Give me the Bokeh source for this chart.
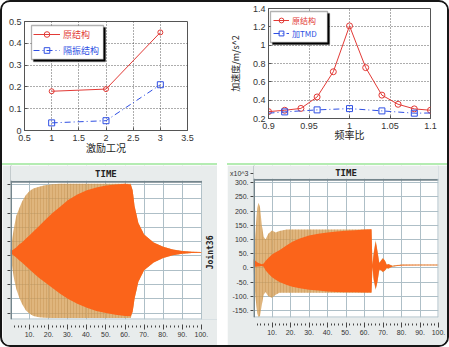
from math import pi
from bokeh.plotting import figure
from bokeh.layouts import row, column
from bokeh.models import (Legend, LegendItem, FixedTicker, Range1d, Label, Span, BoxAnnotation,
                          CDSView, BooleanFilter, ColumnDataSource)
from bokeh.embed import file_html
from bokeh.resources import INLINE

# ---------------- data ----------------
# top-left: peak response per excitation case
tl_cases = [1, 2, 3]
tl_orig = [0.18, 0.19, 0.45]
tl_iso = [0.035, 0.045, 0.21]
tl_xticks = [0.5, 1, 1.5, 2, 2.5, 3, 3.5]
tl_xlabels = ["0.5", "1", "1.5", "2", "2.5", "3", "3.5"]
tl_yticks = [0, 0.1, 0.2, 0.3, 0.4, 0.5]
tl_ylabels = ["0", "0.1", "0.2", "0.3", "0.4", "0.5"]

# top-right: acceleration vs frequency ratio
tr_ratio = [0.9, 0.92, 0.94, 0.96, 0.98, 1.0, 1.02, 1.04, 1.06, 1.08, 1.1]
tr_orig = [0.275, 0.29, 0.31, 0.435, 0.71, 1.21, 0.755, 0.455, 0.355, 0.305, 0.29]
tr_tmd_ratio = [0.9, 0.92, 0.96, 1.0, 1.04, 1.08, 1.1]
tr_tmd = [0.258, 0.272, 0.294, 0.308, 0.283, 0.258, 0.26]
tr_tmd_marked = [False, True, True, True, True, True, False]
tr_xticks = [0.9, 0.95, 1.0, 1.05, 1.1]
tr_xlabels = ["0.9", "0.95", "1", "1.05", "1.1"]
tr_yticks = [0.2, 0.4, 0.6, 0.8, 1.0, 1.2, 1.4]
tr_ylabels = ["0.2", "0.4", "0.6", "0.8", "1", "1.2", "1.4"]

# bottom-left: time history envelopes (Joint36)
bl_t = [0, 1, 2, 3, 4.5, 6, 8, 10, 12, 15, 18, 22, 26, 30, 35, 40, 45, 50, 55, 60,
        63, 64, 65, 67, 70, 75, 80, 85, 90, 95, 100]
bl_tan_hi = [0.25, 1.3, 2.1, 2.8, 3.3, 3.8, 4.25, 4.55, 4.72, 4.85, 4.95, 5.02, 5.05, 5.05,
             5.05, 5.05, 5.05, 5.05, 5.05, 5.05, 5.05, 4.6, 3.5, 2.3, 1.5, 0.95, 0.65, 0.45,
             0.35, 0.3, 0.27]
bl_tan_lo = [0.25, -0.9, -1.7, -2.3, -2.9, -3.35, -3.8, -4.05, -4.2, -4.3, -4.33, -4.35, -4.35,
             -4.35, -4.35, -4.35, -4.35, -4.35, -4.35, -4.35, -4.35, -3.9, -3.0, -1.8, -1.0,
             -0.45, -0.15, 0.05, 0.15, 0.2, 0.23]
bl_org_hi = [0.45, 0.4, 0.5, 0.6, 0.8, 0.95, 1.2, 1.45, 1.72, 2.1, 2.5, 3.0, 3.45, 3.9, 4.3,
             4.6, 4.8, 4.93, 5.0, 5.05, 5.0, 4.6, 3.5, 2.3, 1.5, 0.95, 0.65, 0.45, 0.35, 0.3,
             0.27]
bl_org_lo = [0.05, 0.1, 0.0, -0.1, -0.3, -0.45, -0.7, -0.95, -1.2, -1.55, -1.85, -2.25, -2.65,
             -2.99, -3.35, -3.62, -3.85, -4.0, -4.12, -4.2, -4.22, -3.9, -3.0, -1.8, -1.0,
             -0.45, -0.15, 0.05, 0.15, 0.2, 0.23]
bl_yticks = [-4, -3, -2, -1, 0, 1, 2, 3, 4, 5]
bl_ylim = (-4.45, 5.2)

# bottom-right: time history envelopes (x10^3)
br_t = [0, 1, 2, 2.7, 3.5, 4.5, 5.5, 6.5, 8, 10, 12, 14, 18, 21, 25, 30, 35, 40, 45, 50,
        55, 60, 63.8, 64.3, 65, 66, 67, 68, 69, 70, 71, 72, 73, 75, 80, 90, 100]
br_tan_hi = [20, 120, 210, 230, 215, 150, 110, 100, 120, 132, 125, 130, 135, 135, 135, 135,
             135, 135, 135, 135, 135, 135, 135, 12, 55, 98, 62, 18, 28, 35, 27, 12, 14, 8, 12,
             12, 12]
br_tan_lo = [0, -100, -160, -175, -170, -130, -95, -85, -100, -105, -95, -88, -88, -88, -88,
             -88, -88, -88, -88, -88, -88, -88, -88, 4, -45, -78, -52, -8, -10, -15, -10, -2,
             -3, 4, 8, 8, 8]
br_org_hi = [30, 25, 20, 17, 15, 13, 15, 24, 35, 47, 55, 62, 80, 92, 104, 114, 120, 125, 128,
             131, 133, 135, 136, 10, 50, 92, 58, 16, 26, 33, 25, 11, 13, 7, 11, 11, 11]
br_org_lo = [3, 4, 5, 5, 6, 7, 4, -8, -20, -33, -42, -50, -60, -67, -72, -77, -80, -83, -85,
             -86, -86, -87, -87, 4, -40, -74, -48, -6, -8, -14, -9, 0, -1, 5, 8, 9, 9]
br_yticks = [-150, -100, -50, 0, 50, 100, 150, 200, 250, 300]
br_ylabels = ["-150.", "-100.", "-50.", "0.", "50.", "100.", "150.", "200.", "250.", "300."]
br_ylim = (-175, 311)
br_scale_label = "x10^3"

time_ticks = [10, 20, 30, 40, 50, 60, 70, 80, 90, 100]
time_labels = ["%d." % v for v in time_ticks]
time_lim = (0, 100)

# ---------------- styles ----------------
RED = "#e23a36"
BLUE = "#2f4fe3"
CJK = "Noto Sans CJK SC"
SANS = "Liberation Sans"
MONO = "DejaVu Sans Mono"
TAN = "#d6a059"
ORANGE = "#fb641a"
PANEL_BG = "#e8ecec"
GRID_B = "#aebfc7"
FRAME_B = "#74858c"


def style_matlab(p, xt, xl, yt, yl):
    p.xaxis.ticker = FixedTicker(ticks=xt)
    p.yaxis.ticker = FixedTicker(ticks=yt)
    p.xaxis.major_label_overrides = {t: s for t, s in zip(xt, xl)}
    p.yaxis.major_label_overrides = {t: s for t, s in zip(yt, yl)}
    for ax in (p.xaxis[0], p.yaxis[0]):
        ax.axis_line_color = "#555555"
        ax.major_tick_in = 3
        ax.major_tick_out = 0
        ax.major_tick_line_color = "#555555"
        ax.minor_tick_line_color = None
        ax.major_label_text_font = SANS
        ax.major_label_text_font_size = "9px"
        ax.major_label_text_color = "#333333"
        ax.axis_label_text_font = CJK
        ax.axis_label_text_font_size = "10px"
        ax.axis_label_text_font_style = "normal"
        ax.axis_label_text_color = "#222222"
    p.xaxis.major_label_standoff = 4
    p.yaxis.major_label_standoff = 3
    p.grid.grid_line_color = "#333333"
    p.grid.grid_line_dash = "1 2"
    p.grid.grid_line_alpha = 0.8
    p.outline_line_color = "#555555"


def add_legends(p, item1, item2, loc, glyph_w, font_size, lh, spacing, padding, label_w):
    """Boxed legend with a drop shadow; each row's text gets its own colour.
    loc = (x, y) of the box's lower-left corner, in px from the frame's lower-left corner."""
    (lab1, rs1, c1), (lab2, rs2, c2) = item1, item2
    standoff = 3
    box_w = 2 * padding + glyph_w + standoff + label_w
    box_h = 2 * padding + 2 * lh + spacing
    scr = dict(left_units="screen", right_units="screen", top_units="screen",
               bottom_units="screen")
    p.add_layout(BoxAnnotation(left=loc[0] + 2, right=loc[0] + 2 + box_w, bottom=loc[1] - 2,
                               top=loc[1] - 2 + box_h, fill_color="black", fill_alpha=1,
                               line_color="black", line_width=1.3, **scr))
    p.add_layout(BoxAnnotation(left=loc[0], right=loc[0] + box_w, bottom=loc[1],
                               top=loc[1] + box_h, fill_color="white", fill_alpha=1,
                               line_color="black", line_width=1.3, **scr))
    common = dict(glyph_width=glyph_w, glyph_height=lh, label_height=lh, label_width=label_w,
                  label_standoff=standoff, label_text_font=CJK, label_text_font_size=font_size,
                  background_fill_alpha=0, border_line_alpha=0, padding=0)
    p.add_layout(Legend(items=[LegendItem(label=lab1, renderers=rs1)],
                        location=(loc[0] + padding, loc[1] + padding + lh + spacing),
                        label_text_color=c1, **common))
    p.add_layout(Legend(items=[LegendItem(label=lab2, renderers=rs2)],
                        location=(loc[0] + padding, loc[1] + padding),
                        label_text_color=c2, **common))


def style_time(p, yt, yl, y_main, x_main, label_font_px):
    """Frame lines are drawn as spans so that the extra strips (for texts) stay plain."""
    p.title = None
    p.xaxis.ticker = FixedTicker(ticks=time_ticks,
                                 minor_ticks=[v - d for v in time_ticks for d in (2, 4, 6, 8)])
    p.xaxis.major_label_overrides = {t: s for t, s in zip(time_ticks, time_labels)}
    p.xaxis.axis_line_alpha = 0
    p.xaxis.major_tick_in = -5
    p.xaxis.major_tick_out = 10
    p.xaxis.minor_tick_in = -6
    p.xaxis.minor_tick_out = 8
    p.xaxis.major_tick_line_color = "#444444"
    p.xaxis.minor_tick_line_color = "#444444"
    p.xaxis.major_label_standoff = 2
    p.xaxis.major_label_text_font = SANS
    p.xaxis.major_label_text_font_size = "7px"
    p.xaxis.major_label_text_color = "#333333"
    p.yaxis.ticker = FixedTicker(ticks=yt)
    p.yaxis.major_label_overrides = {t: s for t, s in zip(yt, yl)}
    p.yaxis.axis_line_color = None
    p.yaxis.major_tick_in = 0
    p.yaxis.major_tick_out = 3
    p.yaxis.major_tick_line_color = "#444444"
    p.yaxis.minor_tick_line_color = None
    p.yaxis.major_label_standoff = 2
    p.yaxis.major_label_text_font = SANS
    p.yaxis.major_label_text_font_size = label_font_px
    p.yaxis.major_label_text_color = "#333333"
    p.xgrid.ticker = FixedTicker(ticks=time_ticks)
    p.ygrid.ticker = FixedTicker(ticks=[t for t in yt if y_main[0] <= t <= y_main[1]])
    p.grid.grid_line_color = GRID_B
    p.grid.grid_line_width = 1
    p.outline_line_color = None
    p.background_fill_color = "white"
    p.border_fill_color = PANEL_BG
    # frame lines
    p.add_layout(Span(location=y_main[0], dimension="width", line_color=GRID_B, line_width=2))
    p.add_layout(Span(location=x_main[0], dimension="height", line_color=FRAME_B, line_width=3))
    p.add_layout(Span(location=y_main[1], dimension="width", line_color=FRAME_B, line_width=2))


# ---------------- top-left ----------------
p1 = figure(width=223, height=161, x_range=Range1d(0.5, 3.5), y_range=Range1d(0, 0.5),
            output_backend="svg", toolbar_location=None, min_border_left=22,
            min_border_right=38, min_border_top=19, min_border_bottom=33,
            border_fill_color="white", background_fill_color="white")
style_matlab(p1, tl_xticks, tl_xlabels, tl_yticks, tl_ylabels)
p1.xaxis.axis_label = "激励工况"
p1.xaxis.axis_label_standoff = -4
r1l = p1.line(tl_cases, tl_orig, line_color=RED, line_width=1)
r1m = p1.scatter(tl_cases, tl_orig, marker="circle", size=5, fill_color=None, line_color=RED)
b1l = p1.line(tl_cases, tl_iso, line_color=BLUE, line_width=1, line_dash="6 3 1 3")
b1m = p1.scatter(tl_cases, tl_iso, marker="square", size=6, fill_color=None, line_color=BLUE)
add_legends(p1, ("原结构", [r1l, r1m], RED), ("隔振结构", [b1l, b1m], BLUE),
            loc=(7, 71), glyph_w=27, font_size="9px", lh=14, spacing=2, padding=2, label_w=38)

# ---------------- top-right ----------------
p2 = figure(width=222, height=161, x_range=Range1d(0.9, 1.1), y_range=Range1d(0.2, 1.4),
            output_backend="svg", toolbar_location=None, min_border_left=41,
            min_border_right=17, min_border_top=6, min_border_bottom=45,
            border_fill_color="white", background_fill_color="white")
style_matlab(p2, tr_xticks, tr_xlabels, tr_yticks, tr_ylabels)
p2.xaxis.axis_label = "频率比"
p2.xaxis.axis_label_standoff = -5
p2.yaxis.axis_label = "加速度/m/s^2"
p2.yaxis.axis_label_standoff = 8
p2.yaxis.axis_label_text_font_size = "9px"
r2l = p2.line(tr_ratio, tr_orig, line_color=RED, line_width=1)
r2m = p2.scatter(tr_ratio, tr_orig, marker="circle", size=6, fill_color=None, line_color=RED)
src_tmd = ColumnDataSource(dict(x=tr_tmd_ratio, y=tr_tmd))
b2l = p2.line("x", "y", source=src_tmd, line_color=BLUE, line_width=1, line_dash="6 3 1 3")
b2m = p2.scatter("x", "y", source=src_tmd, view=CDSView(filter=BooleanFilter(tr_tmd_marked)),
                 marker="square", size=6, fill_color=None, line_color=BLUE)
add_legends(p2, ("原结构", [r2l, r2m], RED), ("加TMD", [b2l, b2m], BLUE),
            loc=(2, 76), glyph_w=16, font_size="8px", lh=12, spacing=1, padding=3, label_w=32)

# ---------------- bottom-left ----------------
BL_PX_PER_Y = 14.1      # pixels per y unit
BL_PX_PER_X = 1.89      # pixels per x unit
BL_TOP_STRIP = 16       # px of strip above the frame for the title
BL_RIGHT_STRIP = 16     # px of strip right of the frame for the side label
bl_yend = bl_ylim[1] + BL_TOP_STRIP / BL_PX_PER_Y
bl_xend = time_lim[1] + BL_RIGHT_STRIP / BL_PX_PER_X
p3 = figure(width=215, height=180, x_range=Range1d(time_lim[0], bl_xend),
            y_range=Range1d(bl_ylim[0], bl_yend),
            output_backend="svg", toolbar_location=None, min_border_left=8,
            min_border_right=0, min_border_top=0, min_border_bottom=28,
            styles={"border-top": "2px solid #b4ecb2", "box-sizing": "content-box"})
p3.varea(x=bl_t, y1=bl_tan_lo, y2=bl_tan_hi, fill_color=TAN, fill_alpha=0.78,
         hatch_pattern="vertical_line", hatch_color="#c08a48", hatch_alpha=0.35,
         hatch_scale=3, hatch_weight=1)
p3.varea(x=bl_t, y1=bl_org_lo, y2=bl_org_hi, fill_color=ORANGE, fill_alpha=1.0)
style_time(p3, bl_yticks, [""] * len(bl_yticks), bl_ylim, time_lim, "7px")
p3.yaxis.major_label_text_alpha = 0
p3.yaxis.major_label_standoff = 0
p3.add_layout(BoxAnnotation(bottom=bl_ylim[1] + 1 / BL_PX_PER_Y, fill_color=PANEL_BG,
                            fill_alpha=1, line_alpha=0, level="overlay"))
p3.add_layout(BoxAnnotation(left=time_lim[1] + 0.6 / BL_PX_PER_X, fill_color=PANEL_BG,
                            fill_alpha=1, line_alpha=0, level="overlay"))
p3.add_layout(Label(x=(time_lim[0] + time_lim[1]) / 2,
                    y=bl_ylim[1] + (BL_TOP_STRIP / 2) / BL_PX_PER_Y, text="TIME",
                    text_align="center", text_baseline="middle", text_font=MONO,
                    text_font_size="9px", text_font_style="bold", text_color="#222222",
                    level="overlay"))
p3.add_layout(Label(x=time_lim[1] + (9 / BL_PX_PER_X), y=0.25, text="Joint36", angle=pi / 2,
                    text_align="center", text_baseline="middle", text_font=MONO,
                    text_font_size="8px", text_font_style="bold", text_color="#222222",
                    level="overlay"))

# ---------------- bottom-right ----------------
BR_UNITS_PER_PX = (br_ylim[1] - br_ylim[0]) / 136.0
BR_TOP_STRIP = 14
br_yend = br_ylim[1] + BR_TOP_STRIP * BR_UNITS_PER_PX
br_scale_pos = br_ylim[1] + 6 * BR_UNITS_PER_PX
p4 = figure(width=220, height=180, x_range=Range1d(*time_lim), y_range=Range1d(br_ylim[0], br_yend),
            output_backend="svg", toolbar_location=None, min_border_left=25,
            min_border_right=9, min_border_top=0, min_border_bottom=30,
            styles={"border-top": "2px solid #b4ecb2", "box-sizing": "content-box"})
p4.varea(x=br_t, y1=br_tan_lo, y2=br_tan_hi, fill_color=TAN, fill_alpha=0.78,
         hatch_pattern="vertical_line", hatch_color="#c08a48", hatch_alpha=0.35,
         hatch_scale=3, hatch_weight=1)
p4.varea(x=br_t, y1=br_org_lo, y2=br_org_hi, fill_color=ORANGE, fill_alpha=1.0)
style_time(p4, br_yticks + [br_scale_pos], br_ylabels + [br_scale_label], br_ylim, time_lim, "7px")
p4.add_layout(Span(location=time_lim[1], dimension="height", line_color=GRID_B, line_width=2))
p4.add_layout(BoxAnnotation(bottom=br_ylim[1] + 1 * BR_UNITS_PER_PX, fill_color=PANEL_BG,
                            fill_alpha=1, line_alpha=0, level="overlay"))
p4.add_layout(Label(x=(time_lim[0] + time_lim[1]) / 2,
                    y=br_ylim[1] + 7 * BR_UNITS_PER_PX, text="TIME",
                    text_align="center", text_baseline="middle", text_font=MONO,
                    text_font_size="9px", text_font_style="bold", text_color="#222222",
                    level="overlay"))

# each plot wrapped in its own column so that frames are not aligned across a row
layout = column(row(column(p1), column(p2)), row(column(p3), column(p4), spacing=10),
                styles={"border": "2px solid #161616", "border-radius": "10px",
                        "overflow": "hidden", "box-sizing": "content-box",
                        "background-color": "white"})

open("out.html", "w").write(file_html(layout, INLINE))
